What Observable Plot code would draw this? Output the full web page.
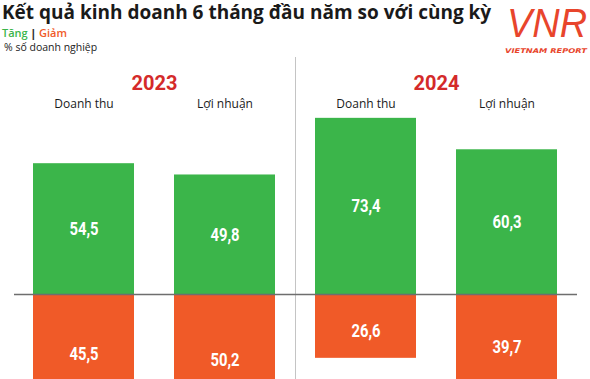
<!DOCTYPE html>
<html>
<head>
<meta charset="utf-8">
<script src="https://cdn.jsdelivr.net/npm/d3@7"></script>
<script src="https://cdn.jsdelivr.net/npm/@observablehq/plot@0.6"></script>
<style>
  html, body { margin: 0; padding: 0; background: #fff; }
  body { width: 590px; height: 379px; overflow: hidden; position: relative; font-family: "Open Sans", sans-serif; }
  #header { position: relative; height: 57px; }
  #title { position: absolute; left: 2px; top: 1px; font-size: 19px; line-height: 23px; font-weight: 700; color: #1a1a1a; white-space: nowrap; }
  #legend { position: absolute; left: 2px; top: 26px; font-size: 11px; line-height: 14px; font-weight: 600; white-space: nowrap; }
  #unit { position: absolute; left: 4px; top: 40px; font-size: 10.5px; line-height: 14px; color: #222; white-space: nowrap; }
  #logo { position: absolute; left: 500px; top: 0px; }
</style>
</head>
<body>
<div id="header">
  <div id="title">Kết quả kinh doanh 6 tháng đầu năm so với cùng kỳ</div>
  <div id="legend"><span style="color:#3bb54a">Tăng</span> <span style="color:#333;font-weight:800">|</span> <span style="color:#f05a28">Giảm</span></div>
  <div id="unit">% số doanh nghiệp</div>
  <svg id="logo" width="90" height="57">
    <text x="47" y="37" text-anchor="middle" font-family="Liberation Sans" font-style="italic" font-weight="400" font-size="40" fill="#e8452c" textLength="80" lengthAdjust="spacingAndGlyphs">VNR</text>
    <text x="46" y="53" text-anchor="middle" font-family="DejaVu Sans" font-style="italic" font-weight="700" font-size="6.5" fill="#e8452c" textLength="82" lengthAdjust="spacingAndGlyphs">VIETNAM REPORT</text>
  </svg>
</div>
<div id="chart"></div>
<script>
const years = ["2023", "2024"];
const metrics = ["Doanh thu", "Lợi nhuận"];
// order: 2023 Doanh thu, 2023 Lợi nhuận, 2024 Doanh thu, 2024 Lợi nhuận
const tang = [54.5, 49.8, 73.4, 60.3];
const giam = [45.5, 50.2, 26.6, 39.7];

const green = "#3bb54a";
const orange = "#f05a28";

const rows = years.flatMap((y, i) => metrics.map((m, j) => ({
  key: y + " " + m, year: y, metric: m,
  tang: tang[i * 2 + j], giam: giam[i * 2 + j]
})));
const fmt = v => v.toFixed(1).replace(".", ",");
const yearRows = rows.filter(d => d.metric === "Lợi nhuận");
const sepRows = rows.filter(d => d.year === "2024" && d.metric === "Doanh thu");

const chart = Plot.plot({
  width: 590,
  height: 322,
  marginLeft: 33,
  marginRight: 33,
  marginTop: 0,
  marginBottom: 0,
  style: { background: "transparent", overflow: "hidden" },
  x: { type: "band", domain: rows.map(d => d.key), paddingInner: 0.2837, paddingOuter: 0, axis: null },
  y: { domain: [-35.42, 98.75], axis: null },
  marks: [
    Plot.ruleX(sepRows, { x: "key", dx: -70.5, stroke: "#c4c4c4", strokeWidth: 1 }),
    Plot.barY(rows, { x: "key", y1: 0, y2: "tang", fill: green }),
    Plot.barY(rows, { x: "key", y1: 0, y2: d => -d.giam, fill: orange, clip: true }),
    Plot.ruleY([0], { stroke: "#6e6e6e", strokeWidth: 1.5, insetLeft: -19, insetRight: -20 }),
    Plot.text(yearRows, { x: "key", text: "year", frameAnchor: "top", dy: 18, dx: -70.5,
      fill: "#d42a2a", fontSize: 20, fontWeight: 700, fontFamily: "Roboto" }),
    Plot.text(rows, { x: "key", text: "metric", frameAnchor: "top", dy: 42,
      fill: "#1a1a1a", fontSize: 12, fontFamily: "Open Sans" }),
    Plot.text(rows, { x: "key", y: d => d.tang / 2, text: d => fmt(d.tang), className: "cond",
      fill: "white", fontSize: 18.5, fontWeight: 700, fontFamily: "Roboto" }),
    Plot.text(rows, { x: "key", y: d => -d.giam / 2, dy: 5, text: d => fmt(d.giam), className: "cond",
      fill: "white", fontSize: 18.5, fontWeight: 700, fontFamily: "Roboto" })
  ]
});
document.getElementById("chart").appendChild(chart);
// condense the value labels horizontally (append a scale after Plot's translate)
chart.querySelectorAll(".cond text").forEach(t => {
  const tr = t.getAttribute("transform") || "";
  t.setAttribute("transform", (tr + " scale(0.8,1)").trim());
});
</script>
</body>
</html>
